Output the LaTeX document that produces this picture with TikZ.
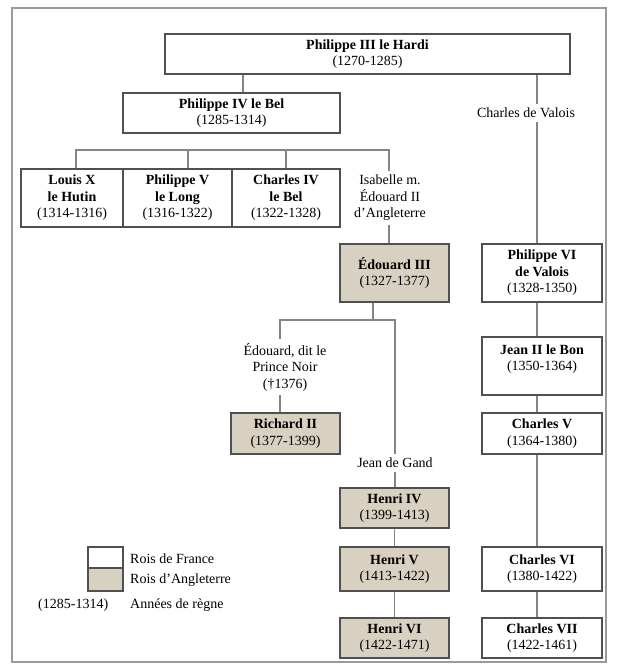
\documentclass[tikz,border=0pt]{standalone}
\usepackage{fontspec}
\setmainfont{Liberation Serif}
\definecolor{tanfill}{HTML}{D8D0C0}
\definecolor{boxline}{HTML}{505050}
\definecolor{connc}{HTML}{858585}
\definecolor{framec}{HTML}{9A9A9A}
\begin{document}
\begin{tikzpicture}[x=1pt,y=-1pt,
  fr/.style={draw=boxline, line width=1.3pt, fill=white, inner sep=0pt, align=center,
    font=\fontsize{14}{16.5}\selectfont},
  en/.style={fr, fill=tanfill},
  lbl/.style={inner sep=4pt, align=center, font=\fontsize{14}{16.5}\selectfont},
  leg/.style={inner sep=0pt, anchor=west, font=\fontsize{14}{16.5}\selectfont},
  conn/.style={draw=connc, line width=1.6pt}]
\useasboundingbox (0,0) rectangle (617,669);
\fill[white] (0,0) rectangle (617,669);
\draw[framec, line width=1.2pt] (12,8) rectangle (606,662);

% coordinates for connector columns
\coordinate (c1) at (243,0);
\coordinate (cv) at (537,0);
\coordinate (b1) at (76,150);
\coordinate (b2) at (188,150);
\coordinate (b3) at (286,150);
\coordinate (b4) at (389,150);
\coordinate (s0) at (373,320);
\coordinate (s1) at (280,320);
\coordinate (s2) at (395,320);

% nodes
\node[fr, minimum width=405pt, minimum height=40pt] (p3) at (367.5,54) {\textbf{Philippe III le Hardi}\\(1270-1285)};
\node[fr, minimum width=217pt, minimum height=40pt] (p4) at (231.5,113) {\textbf{Philippe IV le Bel}\\(1285-1314)};
\node[fr, minimum width=102pt, minimum height=58pt] (l10) at (72,198) {\textbf{Louis X}\\\textbf{le Hutin}\\(1314-1316)};
\node[fr, minimum width=109pt, minimum height=58pt] (p5) at (177.5,198) {\textbf{Philippe V}\\\textbf{le Long}\\(1316-1322)};
\node[fr, minimum width=108pt, minimum height=58pt] (c4) at (286,198) {\textbf{Charles IV}\\\textbf{le Bel}\\(1322-1328)};
\node[lbl] (isa) at (390,198) {Isabelle m.\\Édouard II\\d'Angleterre};
\node[lbl] (cdv) at (526,113) {Charles de Valois};
\node[en, minimum width=109pt, minimum height=58pt] (e3) at (394.5,273) {\textbf{Édouard III}\\(1327-1377)};
\node[fr, minimum width=120pt, minimum height=58pt] (p6) at (542,273) {\textbf{Philippe VI}\\\textbf{de Valois}\\(1328-1350)};
\node[fr, minimum width=120pt, minimum height=58pt] (j2) at (542,366) {\textbf{Jean II le Bon}\\(1350-1364)\\\mbox{}};
\node[fr, minimum width=120pt, minimum height=41pt] (c5) at (542,433.5) {\textbf{Charles V}\\(1364-1380)};
\node[fr, minimum width=120pt, minimum height=44pt] (c6) at (542,569) {\textbf{Charles VI}\\(1380-1422)};
\node[fr, minimum width=120pt, minimum height=40pt] (c7) at (542,638) {\textbf{Charles VII}\\(1422-1461)};
\node[lbl] (edn) at (285,367) {Édouard, dit le\\Prince Noir\\(†1376)};
\node[en, minimum width=109pt, minimum height=41pt] (r2) at (285.5,433.5) {\textbf{Richard II}\\(1377-1399)};
\node[lbl] (jdg) at (395,463) {Jean de Gand};
\node[en, minimum width=109pt, minimum height=40pt] (h4) at (394.5,508) {\textbf{Henri IV}\\(1399-1413)};
\node[en, minimum width=109pt, minimum height=44pt] (h5) at (394.5,569) {\textbf{Henri V}\\(1413-1422)};
\node[en, minimum width=109pt, minimum height=40pt] (h6) at (394.5,638) {\textbf{Henri VI}\\(1422-1471)};

% connectors
\draw[conn] (p3.south -| c1) -- (p4.north -| c1);
\draw[conn] (p3.south -| cv) -- (cdv.north -| cv);
\draw[conn] (cdv.south -| cv) -- (p6.north -| cv);
\draw[conn] (l10.north -| b1) -- (b1) -- (b4) -- (isa.north -| b4);
\draw[conn] (b2) -- (p5.north -| b2);
\draw[conn] (b3) -- (c4.north -| b3);
\draw[conn] (isa.south -| b4) -- (e3.north -| b4);
\draw[conn] (e3.south -| s0) -- (s0);
\draw[conn] (edn.north -| s1) -- (s1) -- (s2) -- (jdg.north -| s2);
\draw[conn] (edn.south -| s1) -- (r2.north -| s1);
\draw[conn] (jdg.south -| s2) -- (h4.north -| s2);
\draw[conn] (h4.south) -- (h5.north);
\draw[conn] (h5.south) -- (h6.north);
\draw[conn] (p6.south -| cv) -- (j2.north -| cv);
\draw[conn] (j2.south -| cv) -- (c5.north -| cv);
\draw[conn] (c5.south -| cv) -- (c6.north -| cv);
\draw[conn] (c6.south -| cv) -- (c7.north -| cv);

% legend
\node[fr, minimum width=35pt, minimum height=21pt] (lw) at (105.5,557.5) {};
\node[en, minimum width=35pt, minimum height=23pt] (lt) at (105.5,579.5) {};
\node[leg] (lwt) at (130,559) {Rois de France};
\node[leg] (ltt) at (130,580) {Rois d'Angleterre};
\node[leg] (lyr) at (38,605) {(1285-1314)};
\node[leg] (lyt) at (130,605) {Années de règne};
\end{tikzpicture}
\end{document}
